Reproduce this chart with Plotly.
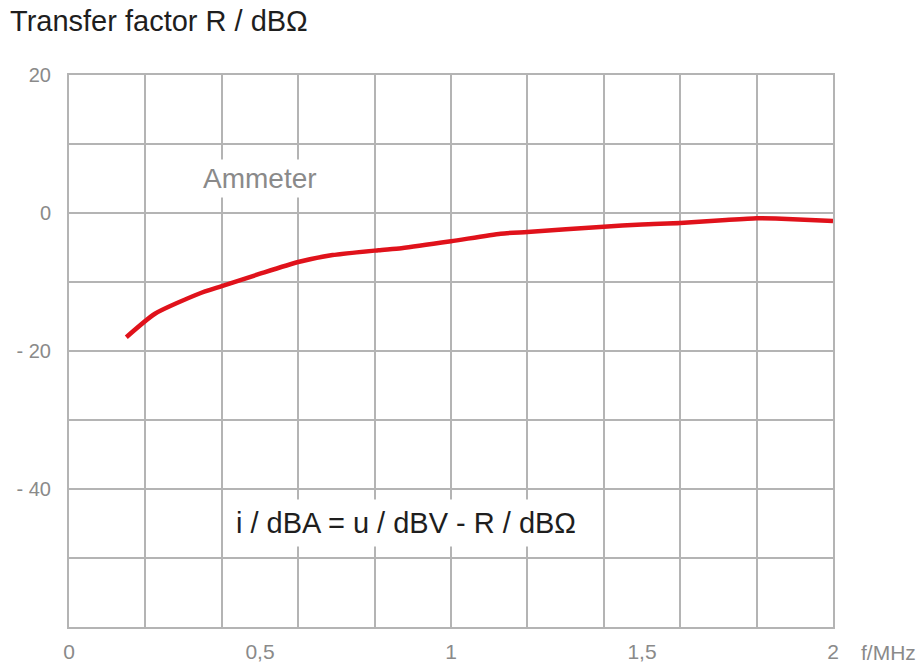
import plotly.graph_objects as go

freq_mhz = [0.15, 0.225, 0.34, 0.40, 0.50, 0.60, 0.69, 0.81, 0.87, 1.00, 1.13, 1.20, 1.40, 1.50, 1.60, 1.72, 1.80, 1.85, 2.00]
r_dbohm = [-18.0, -14.6, -11.7, -10.6, -8.8, -7.1, -6.1, -5.4, -5.1, -4.1, -3.0, -2.75, -2.0, -1.65, -1.45, -1.0, -0.75, -0.8, -1.15]

x_tickvals = [0, 0.5, 1, 1.5, 2]
x_ticktext = ["0", "0,5", "1", "1,5", "2"]
y_tickvals = [-60, -50, -40, -30, -20, -10, 0, 10, 20]
y_ticktext = ["", "", "- 40", "", "- 20", "", "0", "", "20"]

grid = "#b4b4b4"
font = "Liberation Sans, Arial, sans-serif"

W, H = 920, 668
L, T = 69, 75
PW, PH = 764, 552

fig = go.Figure()
fig.add_trace(go.Scatter(
    x=freq_mhz, y=r_dbohm, mode="lines",
    line=dict(color="#e0121b", width=4.5, shape="spline", smoothing=0.6),
    hoverinfo="skip", showlegend=False,
))

fig.update_layout(
    width=W, height=H,
    margin=dict(l=L, r=W - L - PW, t=T, b=H - T - PH),
    paper_bgcolor="white", plot_bgcolor="white",
    font=dict(family=font, color="#8a8a8a", size=20),
    xaxis=dict(
        range=[0, 2], tickvals=x_tickvals, ticktext=x_ticktext,
        showgrid=False, zeroline=False, ticks="", automargin=False,
        showline=True, linecolor=grid, linewidth=2, mirror=True,
        ticklabelstandoff=5,
        minor=dict(tick0=0, dtick=0.2, showgrid=True, gridcolor=grid, gridwidth=2, ticks=""),
        tickfont=dict(size=21, color="#8a8a8a"),
    ),
    yaxis=dict(
        range=[-60, 20], tickvals=y_tickvals, ticktext=y_ticktext,
        showgrid=True, gridcolor=grid, gridwidth=2, zeroline=False, ticks="", automargin=False,
        showline=True, linecolor=grid, linewidth=2, mirror=True,
        ticklabelstandoff=12,
        tickfont=dict(size=20, color="#8a8a8a"),
    ),
    annotations=[
        dict(text="Transfer factor R / dBΩ", xref="paper", yref="paper",
             x=-61 / PW, y=1 + 54 / PH, xanchor="left", yanchor="middle",
             showarrow=False, font=dict(size=29, color="#1e1e1e", family=font)),
        dict(text="f/MHz", xref="paper", yref="paper",
             x=1 + 26 / PW, y=-25 / PH, xanchor="left", yanchor="middle",
             showarrow=False, font=dict(size=21, color="#8a8a8a", family=font)),
        dict(text="Ammeter", xref="x", yref="y", x=0.50, y=5.0,
             xanchor="center", yanchor="middle", showarrow=False,
             bgcolor="white", borderpad=3,
             font=dict(size=28, color="#8a8a8a", family=font)),
        dict(text="i / dBA = u / dBV - R / dBΩ", xref="x", yref="y", x=0.882, y=-44.9,
             xanchor="center", yanchor="middle", showarrow=False,
             bgcolor="white", borderpad=7,
             font=dict(size=29, color="#1e1e1e", family=font)),
    ],
)

fig.write_html("out.html", config={"displayModeBar": False},
               post_script="document.body.style.margin='0px';")
